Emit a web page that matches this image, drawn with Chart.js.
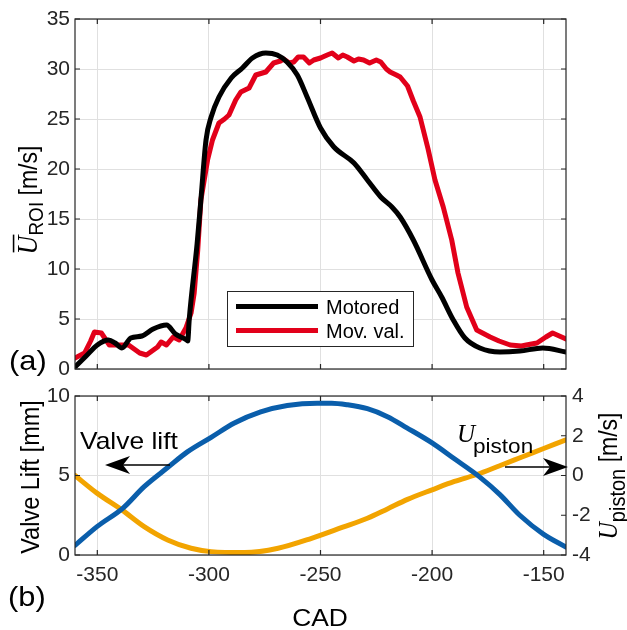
<!DOCTYPE html>
<html><head><meta charset="utf-8">
<script src="https://cdn.jsdelivr.net/npm/chart.js@4.4.1/dist/chart.umd.min.js"></script>
<style>
html,body{margin:0;padding:0;background:#fff;}
#wrap{position:relative;width:627px;height:630px;overflow:hidden;}
canvas{position:absolute;left:0;top:0;}
</style></head><body>
<div id="wrap"><canvas id="cTop" width="627" height="630"></canvas><canvas id="cBot" width="627" height="630"></canvas></div>
<script>
// ---------- data ----------
const seriesLabels = ['Motored', 'Mov. val.'];
const motoredCad = [-360,-355,-350,-345,-342,-339,-335,-330,-325,-319,-315,-310,-309.5,-308.8,-305.3,-303.6,-301.3,-299,-295.5,-290,-285,-280.5,-274.5,-269.4,-265,-260.4,-256,-250,-244,-235,-229,-223,-218,-214.3,-208.4,-200,-195.7,-190.5,-185.3,-178.6,-169.6,-160.7,-150.4,-140];
const motoredU   = [0.2,1.3,2.4,2.9,2.6,2.1,3.1,3.3,4.0,4.4,3.5,2.9,2.8,5.0,12.5,16.9,22.9,25.2,27.2,29.1,30.1,31.1,31.6,31.4,30.7,29.4,27.2,24.1,22.2,20.6,18.9,17.2,16.2,15.2,12.9,8.9,7.2,4.9,3.1,2.1,1.7,1.8,2.1,1.7];
const movValCad = [-360,-355.7,-353,-351.3,-348.2,-344.6,-340,-336,-331,-328,-323,-321.4,-319,-316,-313.3,-310.3,-308,-306.6,-305,-303.6,-300.6,-298.4,-295.5,-293,-291,-288,-285.7,-282,-279,-274.5,-271,-268,-266.5,-264,-262,-260,-257.6,-255,-253,-250,-247,-244.8,-242,-240,-238,-235,-233,-230.7,-228,-225,-223,-220.5,-218.8,-216,-214.3,-211,-208.4,-205.4,-201.8,-198.7,-195,-191.2,-188.4,-184.5,-180,-174,-170,-165,-160,-157.8,-153,-149,-146,-143,-140];
const movValU   = [1.1,1.6,2.8,3.7,3.6,2.4,2.4,2.4,1.6,1.4,2.2,2.7,2.4,3.2,2.9,4.1,5.6,7.6,11.9,16.9,20.9,22.9,24.6,25.0,25.4,26.9,27.7,28.1,29.4,29.7,30.6,30.8,31.0,30.6,30.7,31.2,31.2,30.6,30.9,31.1,31.4,31.6,31.1,31.4,31.2,30.8,31.0,30.9,30.6,30.9,30.7,30.0,29.7,29.4,29.2,28.3,26.8,25.2,22.0,18.9,16.2,12.9,9.6,6.2,3.9,3.2,2.8,2.4,2.3,2.4,2.6,3.2,3.6,3.3,3.0];
const liftCad = [-360,-350,-338.5,-329,-318.5,-309.5,-299,-288.6,-276.8,-264.9,-251.5,-245,-238,-229,-220,-211.3,-200,-190,-178.6,-169.6,-160.7,-150,-140];
const liftMm  = [0.6,1.8,2.95,4.3,5.5,6.5,7.4,8.3,9.0,9.4,9.55,9.55,9.45,9.2,8.7,8.0,7.05,6.05,4.9,3.8,2.5,1.3,0.5];
const pistonCad = [-360,-350,-339,-329,-318.5,-308,-299,-284,-269,-254,-240,-229,-220,-211,-200,-190,-180,-170,-160,-150,-140];
const pistonU   = [0,-0.9,-1.73,-2.57,-3.24,-3.66,-3.83,-3.88,-3.66,-3.16,-2.6,-2.15,-1.68,-1.2,-0.72,-0.3,0.05,0.48,0.92,1.36,1.8];
const cadTicks = [-350,-300,-250,-200,-150];
const uTicks = [0,5,10,15,20,25,30,35];
const liftTicks = [0,5,10];
const pistonTicks = [-4,-2,0,2,4];

// ---------- styling ----------
const AX = '#262626', GRID = '#e0e0e0';
const SANS = '"Liberation Sans", Arial, Helvetica, sans-serif';
const SERIF = '"Liberation Serif", "Times New Roman", serif';
const SX = 1.1; // horizontal stretch of the reference's text
const pts = (xs, ys) => xs.map((x, i) => ({x, y: ys[i]}));
const fixTicks = vals => scale => { scale.ticks = vals.map(v => ({value: v})); };
const tickFont = {family: SANS, size: 21};

function txt(ctx, s, x, y, font, o = {}) {
  ctx.save();
  ctx.font = font; ctx.fillStyle = o.color || '#000';
  ctx.textAlign = o.align || 'left'; ctx.textBaseline = o.base || 'alphabetic';
  ctx.translate(x, y); ctx.scale(o.sx || SX, 1); if (o.rot) ctx.rotate(o.rot);
  ctx.fillText(s, 0, 0);
  ctx.restore();
}
function rotLabel(ctx, parts, cx, cy) {
  ctx.save();
  ctx.translate(cx, cy); ctx.scale(SX, 1); ctx.rotate(-Math.PI / 2);
  let total = 0;
  parts.forEach(p => { ctx.font = p.font; p.w = ctx.measureText(p.t).width; total += p.w; });
  let x = -total / 2;
  ctx.fillStyle = '#000'; ctx.textBaseline = 'alphabetic'; ctx.textAlign = 'left';
  parts.forEach(p => {
    ctx.font = p.font; ctx.fillText(p.t, x, p.dy || 0);
    if (p.over) { ctx.fillRect(x + 2, -p.over, p.w - 1, 1.4); }
    x += p.w;
  });
  ctx.restore();
}
function arrow(ctx, x0, x1, y) {
  const d = Math.sign(x1 - x0);
  ctx.save();
  ctx.strokeStyle = '#000'; ctx.fillStyle = '#000'; ctx.lineWidth = 1.3;
  ctx.beginPath(); ctx.moveTo(x0, y); ctx.lineTo(x1 - d * 10, y); ctx.stroke();
  ctx.beginPath();
  ctx.moveTo(x1, y); ctx.lineTo(x1 - d * 25, y - 9); ctx.lineTo(x1 - d * 18, y); ctx.lineTo(x1 - d * 25, y + 9);
  ctx.closePath(); ctx.fill();
  ctx.restore();
}
function frame(chart, spec) {
  const ctx = chart.ctx, ca = chart.chartArea, L = 5;
  ctx.save();
  ctx.strokeStyle = AX; ctx.lineWidth = 1.2;
  ctx.strokeRect(ca.left, ca.top, ca.right - ca.left, ca.bottom - ca.top);
  ctx.beginPath();
  const xs = chart.scales.x;
  xs.ticks.forEach(t => { const p = xs.getPixelForValue(t.value);
    ctx.moveTo(p, ca.bottom); ctx.lineTo(p, ca.bottom - L); ctx.moveTo(p, ca.top); ctx.lineTo(p, ca.top + L); });
  spec.forEach(([id, side]) => { const s = chart.scales[id];
    s.ticks.forEach(t => { const p = s.getPixelForValue(t.value);
      if (side !== 'right') { ctx.moveTo(ca.left, p); ctx.lineTo(ca.left + L, p); }
      if (side !== 'left') { ctx.moveTo(ca.right, p); ctx.lineTo(ca.right - L, p); } }); });
  ctx.stroke();
  ctx.restore();
}

const topDeco = {
  id: 'topDeco',
  afterDraw(chart) {
    const ctx = chart.ctx;
    frame(chart, [['y', 'both']]);
    ctx.save();
    ctx.fillStyle = '#fff'; ctx.fillRect(227.5, 291.5, 186, 55);
    ctx.strokeStyle = AX; ctx.lineWidth = 1; ctx.strokeRect(227.5, 291.5, 186, 55);
    chart.data.datasets.forEach((ds, i) => {
      const y = 306.5 + i * 24;
      ctx.strokeStyle = ds.borderColor; ctx.lineWidth = 5;
      ctx.beginPath(); ctx.moveTo(236, y); ctx.lineTo(318, y); ctx.stroke();
      txt(ctx, ds.label, 326, y + 7, '20px ' + SANS, {sx: 1});
    });
    ctx.restore();
    rotLabel(ctx, [
      {t: 'U', font: 'italic 26px ' + SERIF, over: 22},
      {t: 'ROI', font: '19px ' + SANS, dy: 5},
      {t: ' [m/s]', font: '23px ' + SANS}
    ], 37, 200);
    txt(ctx, '(a)', 9, 370, '28px ' + SANS);
  }
};
const botDeco = {
  id: 'botDeco',
  afterDraw(chart) {
    const ctx = chart.ctx;
    frame(chart, [['y', 'left'], ['y2', 'right']]);
    rotLabel(ctx, [{t: 'Valve Lift [mm]', font: '23.5px ' + SANS}], 39, 477);
    rotLabel(ctx, [
      {t: 'U', font: 'italic 24px ' + SERIF},
      {t: 'piston', font: '20px ' + SANS, dy: 7},
      {t: ' [m/s]', font: '23px ' + SANS}
    ], 617, 476);
    txt(ctx, 'CAD', 320, 626, '24px ' + SANS, {align: 'center'});
    txt(ctx, '(b)', 8, 606, '28px ' + SANS);
    txt(ctx, 'Valve lift', 80, 449, '24px ' + SANS);
    txt(ctx, 'U', 457, 441.5, 'italic 25px ' + SERIF, {sx: 1});
    txt(ctx, 'piston', 473, 453, '20.5px ' + SANS);
    arrow(ctx, 170, 105, 465);
    arrow(ctx, 505, 568, 467);
  }
};

const common = {
  responsive: false, animation: false, devicePixelRatio: 1,
  plugins: {legend: {display: false}, tooltip: {enabled: false}},
  elements: {point: {radius: 0}, line: {borderCapStyle: 'round', borderJoinStyle: 'round'}}
};

new Chart(document.getElementById('cTop'), {
  type: 'line',
  data: {datasets: [
    {label: seriesLabels[0], data: pts(motoredCad, motoredU), borderColor: '#000000', borderWidth: 5, cubicInterpolationMode: 'monotone'},
    {label: seriesLabels[1], data: pts(movValCad, movValU), borderColor: '#e2001a', borderWidth: 5, tension: 0}
  ]},
  options: Object.assign({}, common, {
    layout: {padding: {left: 0, right: 61, top: 19, bottom: 261}},
    scales: {
      x: {type: 'linear', min: -360, max: -140, afterBuildTicks: fixTicks(cadTicks),
          ticks: {display: false}, grid: {color: GRID, drawTicks: false}, border: {display: false},
          afterFit: s => { s.height = 0; }},
      y: {type: 'linear', min: 0, max: 35, afterBuildTicks: fixTicks(uTicks),
          ticks: {font: tickFont, color: AX, padding: 5}, grid: {color: GRID, drawTicks: false}, border: {display: false},
          afterFit: s => { s.width = 75; }}
    }
  }),
  plugins: [topDeco]
});

new Chart(document.getElementById('cBot'), {
  type: 'line',
  data: {datasets: [
    {label: 'Valve lift', data: pts(liftCad, liftMm), borderColor: '#0a5eab', borderWidth: 5, cubicInterpolationMode: 'monotone', yAxisID: 'y'},
    {label: 'U piston', data: pts(pistonCad, pistonU), borderColor: '#f2a400', borderWidth: 5, cubicInterpolationMode: 'monotone', yAxisID: 'y2'}
  ]},
  options: Object.assign({}, common, {
    layout: {padding: {left: 0, right: 0, top: 396, bottom: 0}},
    scales: {
      x: {type: 'linear', min: -360, max: -140, afterBuildTicks: fixTicks(cadTicks),
          ticks: {font: tickFont, color: AX, padding: 8}, grid: {color: GRID, drawTicks: false}, border: {display: false},
          afterFit: s => { s.height = 75; }},
      y: {type: 'linear', position: 'left', min: 0, max: 10, afterBuildTicks: fixTicks(liftTicks),
          ticks: {font: tickFont, color: AX, padding: 5}, grid: {color: GRID, drawTicks: false}, border: {display: false},
          afterFit: s => { s.width = 75; }},
      y2: {type: 'linear', position: 'right', min: -4, max: 4, afterBuildTicks: fixTicks(pistonTicks),
          ticks: {font: tickFont, color: AX, padding: 6}, grid: {display: false, drawTicks: false}, border: {display: false},
          afterFit: s => { s.width = 61; }}
    }
  }),
  plugins: [botDeco]
});
</script>
</body></html>
